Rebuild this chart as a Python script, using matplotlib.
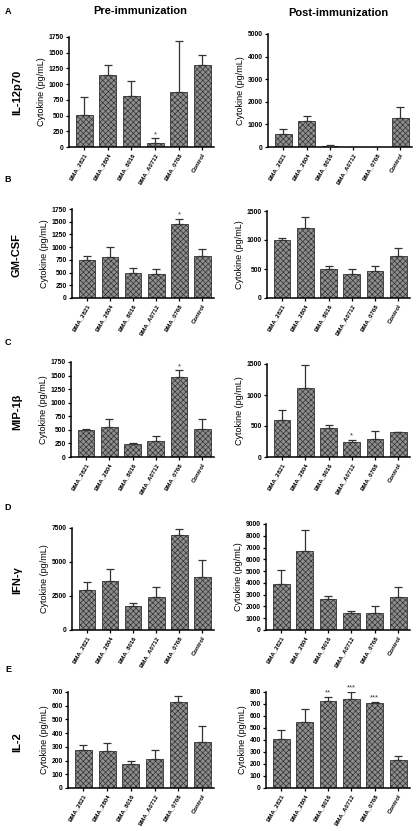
import matplotlib
matplotlib.use("Agg")
import matplotlib.pyplot as plt

plt.rcParams['font.family'] = ['Liberation Sans', 'DejaVu Sans']
plt.rcParams['hatch.linewidth'] = 0.5
plt.rcParams['hatch.color'] = '#333333'

strains = ["BMA_2821", "BMA_2804", "BMA_8016", "BMA_A0712", "BMA_0768", "Control"]

il12_pre = [507, 1142, 814, 63, 877, 1300]
il12_pre_err = [291, 169, 243, 74, 804, 170]
il12_post = [593, 1142, 45, 5, 5, 1291]
il12_post_err = [223, 238, 30, 0, 0, 460]

gmcsf_pre = [753, 799, 482, 469, 1453, 832]
gmcsf_pre_err = [66, 211, 112, 92, 99, 126]
gmcsf_post = [1004, 1215, 502, 416, 462, 719]
gmcsf_post_err = [34, 188, 57, 80, 97, 148]

mip_pre = [496, 545, 233, 294, 1481, 514]
mip_pre_err = [24, 159, 30, 92, 116, 177]
mip_post = [599, 1112, 475, 237, 291, 399]
mip_post_err = [167, 366, 38, 44, 124, 11]

ifn_pre = [2951, 3590, 1795, 2410, 6984, 3885]
ifn_pre_err = [565, 861, 172, 787, 418, 1254]
ifn_post = [3870, 6750, 2590, 1480, 1480, 2790]
ifn_post_err = [1260, 1770, 310, 140, 540, 880]

il2_pre = [280, 267, 175, 211, 627, 335]
il2_pre_err = [36, 61, 19, 69, 41, 115]
il2_post = [411, 547, 728, 744, 708, 231]
il2_post_err = [70, 114, 30, 56, 11, 33]

# significance marks
il12_pre_sig = ["", "", "", "*", "", ""]
gmcsf_pre_sig = ["", "", "", "", "*", ""]
mip_pre_sig = ["", "", "", "", "*", ""]
mip_post_sig = ["", "", "", "*", "", ""]
il2_post_sig = ["", "", "**", "***", "***", ""]
no_sig = [""] * 6

W, H = 419, 831
fig = plt.figure(figsize=(W / 100, H / 100), dpi=100)


def add_ax(left, right, top, bottom):
    return fig.add_axes([left / W, 1 - bottom / H, (right - left) / W, (bottom - top) / H])


def draw_panel(ax, vals, errs, sig, ymax, step):
    x = range(len(vals))
    ax.bar(x, vals, width=0.72, facecolor='#8e8e8e', edgecolor='#333333',
           linewidth=0.6, hatch='xxxxxx', zorder=2)
    ax.errorbar(x, vals, yerr=[[0] * len(errs), errs], fmt='none', ecolor='#333333',
                elinewidth=0.9, capsize=2.8, capthick=0.9, zorder=3)
    for i, s in enumerate(sig):
        if s:
            ax.text(i, vals[i] + errs[i] + ymax * 0.003, s, ha='center', va='bottom',
                    fontsize=5.5, color='#333333')
    ax.set_ylim(0, ymax)
    ax.set_yticks(range(0, ymax + 1, step))
    ax.set_xlim(-0.65, 5.5)
    ax.set_xticks(list(x))
    ax.set_xticklabels(strains, rotation=60, ha='right', rotation_mode='anchor',
                       fontsize=4.3, fontweight='bold')
    for lab in ax.get_yticklabels():
        lab.set_fontsize(4.9)
        lab.set_fontweight('bold')
    ax.tick_params(axis='both', direction='out', length=2.5, width=0.9, pad=1.2)
    ax.spines['top'].set_visible(False)
    ax.spines['right'].set_visible(False)
    ax.spines['left'].set_linewidth(1.1)
    ax.spines['bottom'].set_linewidth(1.1)
    ax.set_ylabel("Cytokine (pg/mL)", fontsize=6.5, labelpad=2)


panels = [
    # pre axes box, post axes box, data
    ((69, 214, 37, 147), (268, 412, 34, 147),
     il12_pre, il12_pre_err, il12_pre_sig, 1750, 250,
     il12_post, il12_post_err, no_sig, 5000, 1000),
    ((72, 214, 209, 298), (267, 410, 211, 298),
     gmcsf_pre, gmcsf_pre_err, gmcsf_pre_sig, 1750, 250,
     gmcsf_post, gmcsf_post_err, no_sig, 1500, 500),
    ((71, 214, 362, 457), (267, 410, 364, 457),
     mip_pre, mip_pre_err, mip_pre_sig, 1750, 250,
     mip_post, mip_post_err, mip_post_sig, 1500, 500),
    ((72, 214, 528, 630), (266, 410, 524, 630),
     ifn_pre, ifn_pre_err, no_sig, 7500, 2500,
     ifn_post, ifn_post_err, no_sig, 9000, 1000),
    ((68, 214, 692, 788), (266, 410, 692, 788),
     il2_pre, il2_pre_err, no_sig, 700, 100,
     il2_post, il2_post_err, il2_post_sig, 800, 100),
]

for p in panels:
    ax1 = add_ax(*p[0])
    draw_panel(ax1, p[2], p[3], p[4], p[5], p[6])
    ax2 = add_ax(*p[1])
    draw_panel(ax2, p[7], p[8], p[9], p[10], p[11])

row_names = ["IL-12p70", "GM-CSF", "MIP-1β", "IFN-γ", "IL-2"]
row_y = [92, 255, 412, 580, 742]
letters = ["A", "B", "C", "D", "E"]
letter_y = [11, 180, 342, 508, 670]

for name, y in zip(row_names, row_y):
    fig.text(17 / W, 1 - y / H, name, rotation=90, ha='center', va='center',
             fontsize=8, fontweight='bold')
for let, y in zip(letters, letter_y):
    fig.text(8 / W, 1 - y / H, let, ha='center', va='center', fontsize=6.5,
             fontweight='bold')

fig.text(140 / W, 1 - 11 / H, "Pre-immunization", ha='center', va='center',
         fontsize=8, fontweight='bold')
fig.text(338 / W, 1 - 13 / H, "Post-immunization", ha='center', va='center',
         fontsize=8, fontweight='bold')

fig.savefig("out.png", dpi=100)
